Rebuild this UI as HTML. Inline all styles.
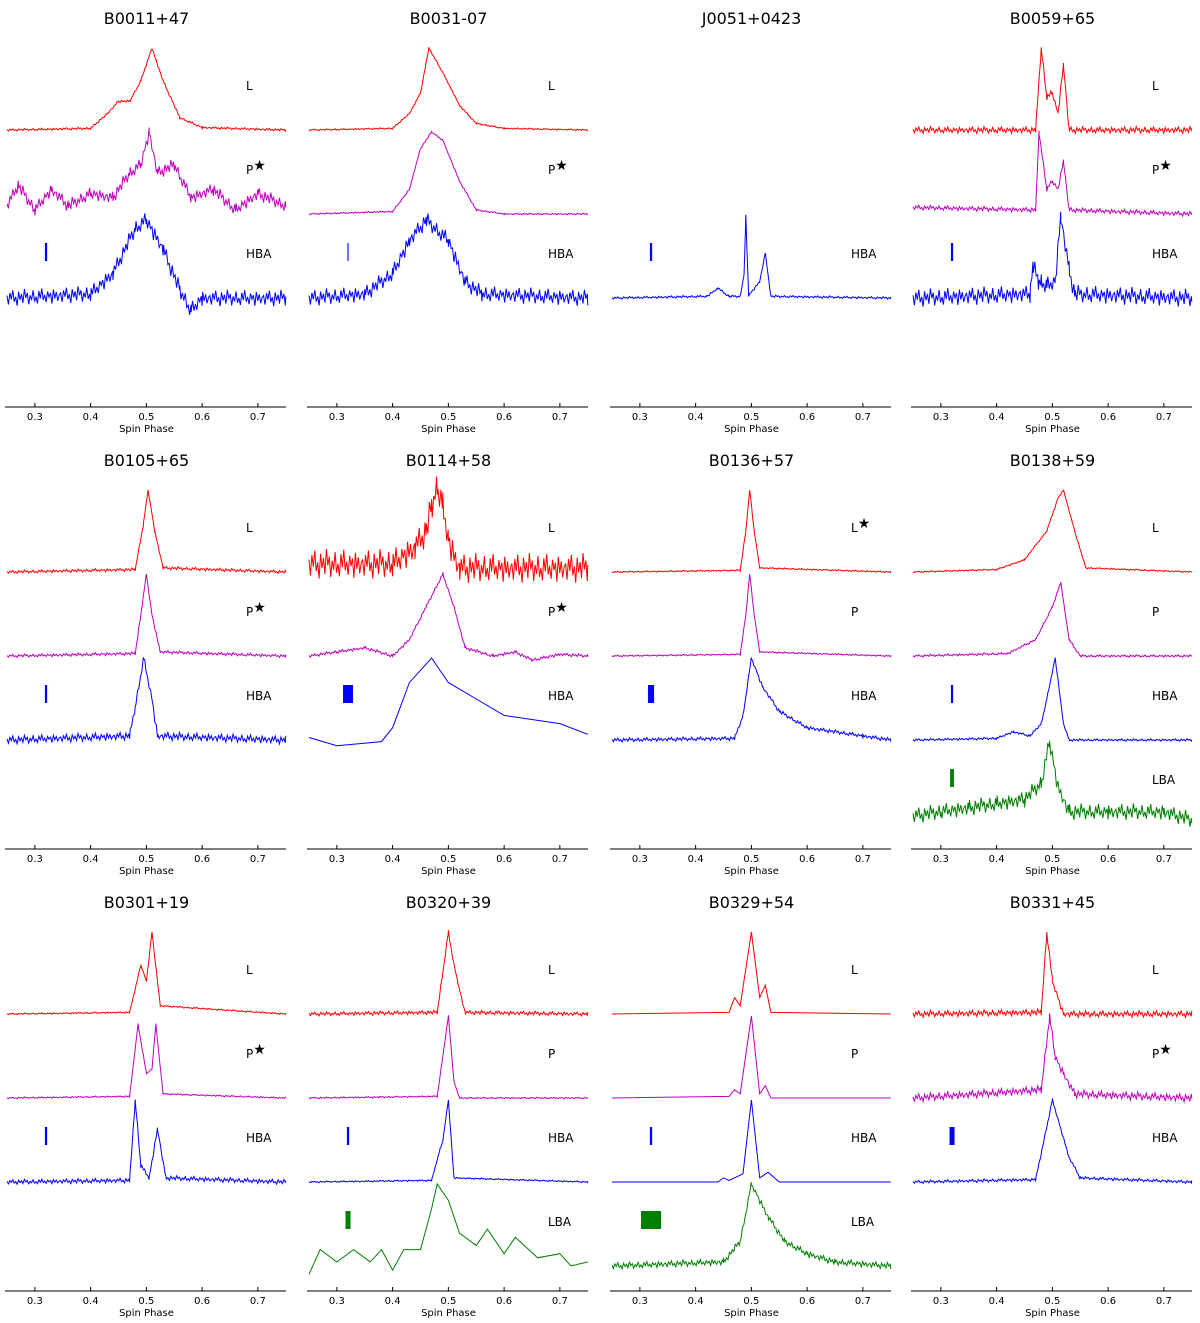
<!DOCTYPE html>
<html><head><meta charset="utf-8"><style>
body{margin:0;background:#fff}
svg{display:block;font-family:"DejaVu Sans","Liberation Sans",sans-serif}
</style></head><body>
<svg id="fig" width="1200" height="1323" viewBox="0 0 1200 1323"></svg>
<script>
const panelNames = ["B0011+47","B0031-07","J0051+0423","B0059+65","B0105+65","B0114+58","B0136+57","B0138+59","B0301+19","B0320+39","B0329+54","B0331+45"];
const tickLabels = ["0.3","0.4","0.5","0.6","0.7"];
const tickValues = [0.3,0.4,0.5,0.6,0.7];
// profiles: [panelIndex, band, starred, phases, values, noiseLevel]
const profiles = [
 [0,"L",0,[0.25,0.40,0.43,0.45,0.47,0.49,0.51,0.53,0.56,0.6,0.75],[0,0.02,0.2,0.35,0.35,0.6,1,0.6,0.15,0.03,0],0.015],
 [0,"P",1,[0.25,0.27,0.3,0.33,0.36,0.4,0.44,0.47,0.49,0.505,0.52,0.55,0.58,0.62,0.66,0.7,0.75],[0.1,0.35,0.05,0.3,0.1,0.25,0.2,0.5,0.6,1,0.5,0.6,0.2,0.3,0.05,0.25,0.1],0.08],
 [0,"HBA",0,[0.25,0.4,0.44,0.48,0.5,0.53,0.56,0.58,0.6,0.75],[0,0.05,0.3,0.85,0.95,0.6,0.1,-0.15,0,0],0.1],
 [1,"L",0,[0.25,0.4,0.43,0.45,0.465,0.49,0.52,0.55,0.6,0.75],[0,0.02,0.2,0.45,1,0.7,0.3,0.08,0.02,0],0.01],
 [1,"P",1,[0.25,0.4,0.43,0.45,0.47,0.49,0.52,0.55,0.6,0.75],[0,0.03,0.3,0.8,1,0.9,0.4,0.05,0,0],0.01],
 [1,"HBA",0,[0.25,0.35,0.4,0.43,0.46,0.5,0.53,0.56,0.75],[0,0.05,0.3,0.7,0.95,0.7,0.2,0.05,0],0.1],
 [2,"HBA",0,[0.25,0.42,0.44,0.46,0.48,0.487,0.49,0.495,0.515,0.525,0.535,0.75],[0,0.02,0.12,0.02,0.02,0.3,1,0.03,0.2,0.55,0.02,0],0.015],
 [3,"L",0,[0.25,0.47,0.48,0.49,0.5,0.51,0.52,0.53,0.75],[0,0,1,0.4,0.45,0.2,0.8,0,0],0.04],
 [3,"P",1,[0.25,0.47,0.476,0.49,0.5,0.51,0.52,0.53,0.75],[0.08,0.05,1,0.3,0.4,0.3,0.65,0.05,0],0.03],
 [3,"HBA",0,[0.25,0.46,0.465,0.475,0.48,0.49,0.505,0.515,0.53,0.54,0.75],[0,0.05,0.4,0.2,0.2,0.15,0.2,1,0.35,0.05,0],0.11],
 [4,"L",0,[0.25,0.48,0.495,0.503,0.515,0.53,0.75],[0,0.03,0.6,1,0.5,0.05,0],0.02],
 [4,"P",1,[0.25,0.48,0.492,0.5,0.51,0.525,0.75],[0,0.03,0.6,1,0.5,0.05,0],0.02],
 [4,"HBA",0,[0.25,0.47,0.48,0.495,0.51,0.52,0.75],[0,0.05,0.4,1,0.5,0.05,0],0.05],
 [5,"L",0,[0.25,0.4,0.44,0.46,0.47,0.48,0.49,0.5,0.51,0.52,0.75],[0.1,0.1,0.3,0.5,0.8,1.05,0.8,0.4,0.2,0.05,0.05],0.18],
 [5,"P",1,[0.25,0.3,0.35,0.4,0.43,0.46,0.49,0.51,0.53,0.58,0.62,0.65,0.7,0.75],[0,0.05,0.1,0,0.2,0.6,1,0.6,0.1,0,0.05,-0.05,0.02,0],0.02],
 [5,"HBA",0,[0.25,0.3,0.38,0.40,0.43,0.47,0.5,0.55,0.6,0.7,0.75],[0.03,-0.07,-0.02,0.15,0.7,1,0.7,0.5,0.3,0.2,0.07],0],
 [6,"L",1,[0.25,0.48,0.49,0.497,0.505,0.515,0.75],[0,0.02,0.5,1,0.5,0.05,0],0.01],
 [6,"P",0,[0.25,0.48,0.49,0.497,0.505,0.515,0.75],[0,0.02,0.5,1,0.5,0.05,0],0.01],
 [6,"HBA",0,[0.25,0.47,0.485,0.5,0.52,0.55,0.6,0.7,0.75],[0,0.02,0.3,1,0.65,0.35,0.15,0.05,0],0.025],
 [7,"L",0,[0.25,0.4,0.45,0.49,0.51,0.52,0.54,0.56,0.75],[0,0.03,0.15,0.5,0.9,1,0.5,0.05,0],0.01],
 [7,"P",0,[0.25,0.42,0.47,0.5,0.515,0.53,0.55,0.75],[0,0.03,0.2,0.6,0.9,0.2,0,0],0.015],
 [7,"HBA",0,[0.25,0.4,0.43,0.46,0.48,0.49,0.505,0.52,0.53,0.75],[0,0.02,0.1,0.05,0.2,0.5,1,0.2,0,0],0.015],
 [7,"LBA",0,[0.25,0.3,0.35,0.4,0.45,0.48,0.495,0.51,0.53,0.6,0.7,0.75],[0.1,0.15,0.2,0.25,0.3,0.5,1,0.45,0.15,0.15,0.15,0.05],0.1],
 [8,"L",0,[0.25,0.47,0.49,0.5,0.51,0.525,0.75],[0,0.02,0.6,0.4,1,0.1,0],0.01],
 [8,"P",1,[0.25,0.47,0.485,0.5,0.51,0.517,0.53,0.75],[0,0.02,0.9,0.3,0.35,0.9,0.05,0],0.01],
 [8,"HBA",0,[0.25,0.47,0.48,0.49,0.505,0.52,0.535,0.75],[0,0.02,1,0.2,0.05,0.65,0.05,0],0.03],
 [9,"L",0,[0.25,0.48,0.5,0.51,0.52,0.53,0.75],[0,0.02,1,0.6,0.3,0.02,0],0.025],
 [9,"P",0,[0.25,0.48,0.5,0.51,0.52,0.75],[0,0.02,1,0.2,0,0],0.01],
 [9,"HBA",0,[0.25,0.47,0.485,0.49,0.5,0.51,0.75],[0,0.02,0.4,0.5,1,0.05,0],0.01],
 [9,"LBA",0,[0.25,0.27,0.3,0.33,0.36,0.38,0.4,0.42,0.45,0.47,0.48,0.5,0.52,0.55,0.57,0.6,0.62,0.66,0.7,0.72,0.75],[-0.1,0.2,0.05,0.2,0.05,0.2,-0.05,0.2,0.2,0.7,1,0.8,0.4,0.25,0.45,0.15,0.35,0.1,0.15,0,0.05],0],
 [10,"L",0,[0.25,0.46,0.47,0.48,0.5,0.515,0.525,0.535,0.75],[0,0.02,0.2,0.1,1,0.2,0.35,0.02,0],0],
 [10,"P",0,[0.25,0.46,0.47,0.48,0.5,0.515,0.525,0.535,0.75],[0,0.02,0.1,0.05,1,0.05,0.15,0,0],0],
 [10,"HBA",0,[0.25,0.44,0.45,0.46,0.485,0.5,0.515,0.53,0.55,0.75],[0,0,0.05,0.02,0.1,1,0.05,0.12,0,0],0],
 [10,"LBA",0,[0.25,0.45,0.48,0.5,0.53,0.56,0.6,0.65,0.75],[0,0.05,0.3,1,0.6,0.3,0.15,0.05,0],0.04],
 [11,"L",0,[0.25,0.48,0.49,0.5,0.51,0.52,0.75],[0,0.02,1,0.4,0.2,0,0],0.04],
 [11,"P",1,[0.25,0.48,0.495,0.505,0.52,0.54,0.75],[0,0.1,1,0.5,0.3,0.05,0],0.05],
 [11,"HBA",0,[0.25,0.47,0.5,0.53,0.55,0.75],[0,0.03,1,0.3,0.05,0],0.02]
];
// fixed jitter pattern applied to noisy profiles (scaled by noiseLevel)
const noiseSeq = [0.3,-0.8,0.6,-0.2,0.9,-0.5,0.1,-1,0.7,-0.3,0.4,-0.7,1,-0.1,0.5,-0.9,0.2,-0.4,0.8,-0.6,0,-0.85,0.65,-0.25,0.95,-0.45,0.15,-0.75,0.55,-0.15,0.35,-0.95,0.75,-0.35,0.45,-0.65,0.05];
// resolution bars: [panelIndex, band, widthInPhase]
const bars = [[0,"HBA",0.004],[1,"HBA",0.002],[2,"HBA",0.004],[3,"HBA",0.004],[4,"HBA",0.004],[5,"HBA",0.018],[6,"HBA",0.011],[7,"HBA",0.004],[7,"LBA",0.007],[8,"HBA",0.004],[9,"HBA",0.004],[9,"LBA",0.009],[10,"HBA",0.004],[10,"LBA",0.036],[11,"HBA",0.009]];

const colors = {L:"#ff0000",P:"#bf00bf",HBA:"#0000ff",LBA:"#008000"};
const bandSlot = {L:0,P:1,HBA:2,LBA:3};
const colX = [7,309,612,913], rowY = [0,442,884];
const NS = "http://www.w3.org/2000/svg";
const svg = document.getElementById('fig');
function mk(tag, attrs, parent){const e=document.createElementNS(NS,tag);for(const k in attrs)e.setAttribute(k,attrs[k]);(parent||svg).appendChild(e);return e;}
function xOf(p, ph){return colX[p%4] + (ph-0.25)*557.5;}
function baseOf(p, band){return rowY[Math.floor(p/4)] + 130 + 84*bandSlot[band];}
function yOf(p, band, v){return baseOf(p,band) - v*82;}
function valAt(ph, vals, x){
  for(let i=1;i<ph.length;i++){ if(x<=ph[i]){const t=(x-ph[i-1])/(ph[i]-ph[i-1]);return vals[i-1]+t*(vals[i]-vals[i-1]);} }
  return vals[vals.length-1];
}

panelNames.forEach((name,p)=>{
  const g = mk('g',{});
  
  
  const cx = colX[p%4]+139.5, ry=rowY[Math.floor(p/4)];
  const t = mk('text',{x:cx,y:ry+24,'text-anchor':'middle','font-size':16,fill:'#000'},g);
  t.textContent = name;
  
  
  const ax = mk('line',{x1:colX[p%4]-2,x2:colX[p%4]+279,y1:ry+407,y2:ry+407,stroke:'#000','stroke-width':1},g);
  
  
  tickValues.forEach((tv,i)=>{
    const x = xOf(p,tv);
    mk('line',{x1:x,x2:x,y1:ry+403,y2:ry+407,stroke:'#000'},g);
    const tl = mk('text',{x:x,y:ry+420,'text-anchor':'middle','font-size':10,fill:'#000'},g);
    tl.textContent = tickLabels[i];
    
    
  });
  const xt = mk('text',{x:cx,y:ry+432,'text-anchor':'middle','font-size':10,fill:'#000'},g);
  xt.textContent = 'Spin Phase';
  
  
});

profiles.forEach(([p,band,star,ph,vals,nz])=>{
  let pts;
  if(nz>0){
    const arr=[];
    const step = 0.0026;
    let k=0;
    const xs = new Set();
    for(let x=0.25;x<=0.7501;x+=step) xs.add(+x.toFixed(4));
    ph.forEach(x=>xs.add(x));
    [...xs].sort((a,b)=>a-b).forEach(x=>{
      const v = valAt(ph,vals,x) + nz*noiseSeq[k%noiseSeq.length];
      k++;
      arr.push(xOf(p,x).toFixed(1)+','+yOf(p,band,v).toFixed(1));
    });
    pts = arr.join(' ');
  } else {
    pts = ph.map((x,i)=>xOf(p,x).toFixed(1)+','+yOf(p,band,vals[i]).toFixed(1)).join(' ');
  }
  const pl = mk('polyline',{points:pts,fill:'none',stroke:colors[band],'stroke-width':1});
  
  
  const lt = mk('text',{x:colX[p%4]+239,y:baseOf(p,band)-40,'font-size':12,fill:'#000'});
  lt.textContent = band;
  
  
  if(star){
    const st = mk('tspan',{'font-size':14,dy:-4},lt);
    st.textContent='★';
  }
});

bars.forEach(([p,band,w])=>{
  const x0 = xOf(p,0.32), wpx = Math.max(1, w*557.5);
  const r = mk('rect',{x:x0-wpx/2,y:baseOf(p,band)-55,width:wpx,height:18,fill:colors[band]});
  
  
});
</script>
</body></html>
